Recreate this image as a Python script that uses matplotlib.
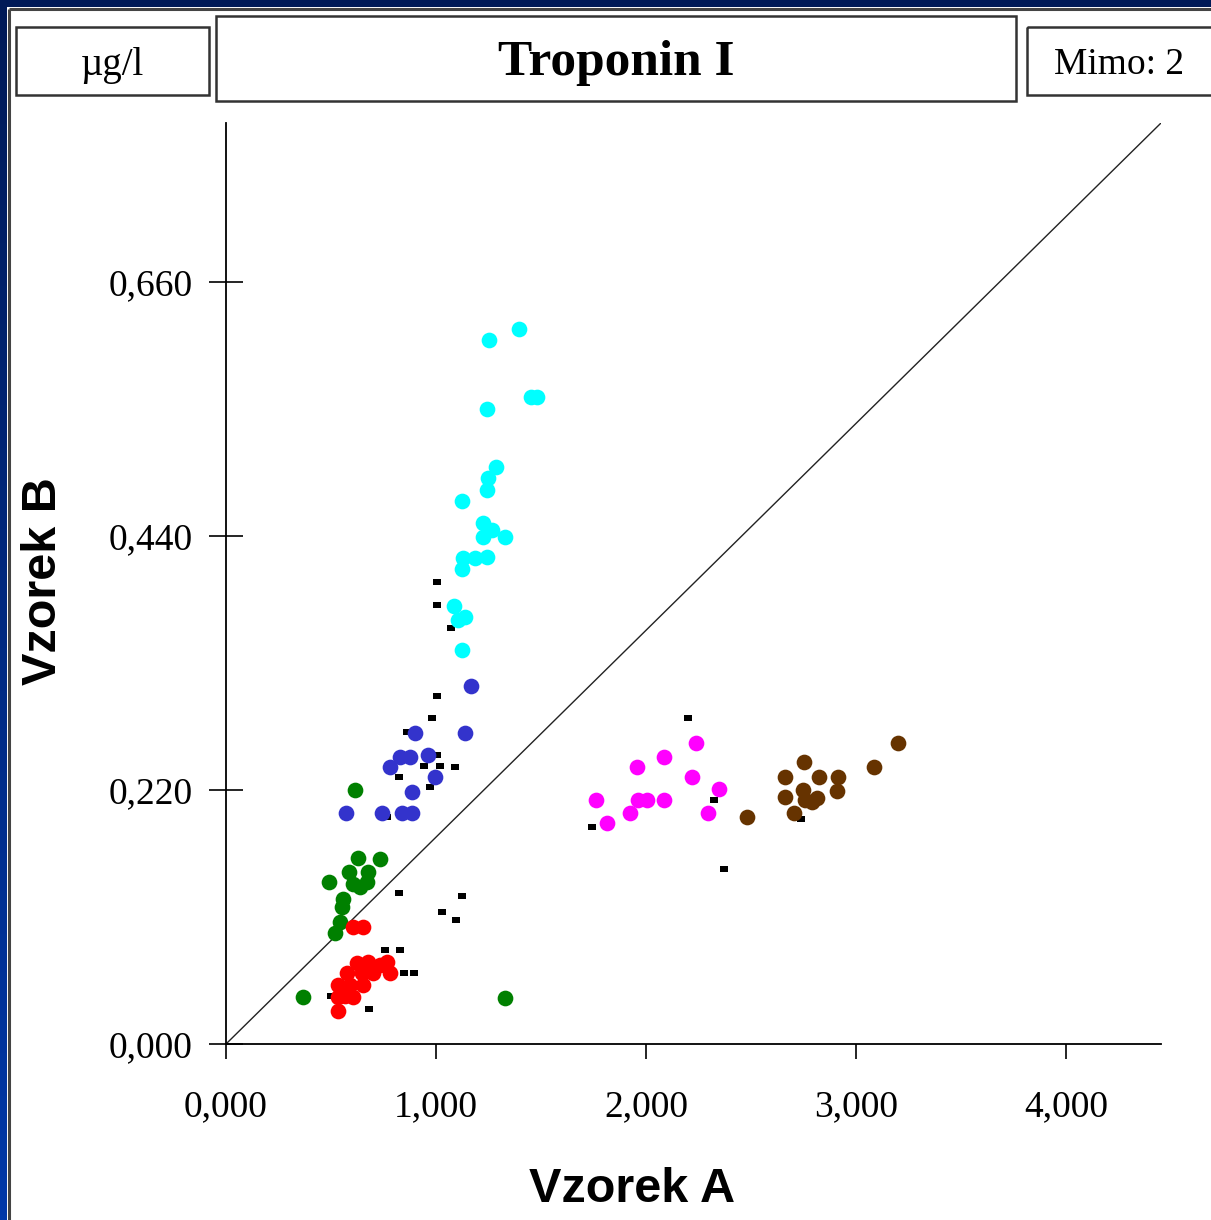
import matplotlib
matplotlib.use("Agg")
import matplotlib.pyplot as plt
import numpy as np
from matplotlib.patches import Rectangle
from matplotlib.path import Path
from matplotlib.ticker import FixedLocator, FuncFormatter
from matplotlib.colors import LinearSegmentedColormap

# ---------------- data ----------------
title = "Troponin I"
unit_label = "µg/l"
outside_label = "Mimo: 2"
x_label = "Vzorek A"
y_label = "Vzorek B"

x_ticks = [0.0, 1.0, 2.0, 3.0, 4.0]
y_ticks = [0.0, 0.22, 0.44, 0.66]
x_max = 4.452
y_max = 0.7977

cyan_x = [1.395, 1.252, 1.452, 1.481, 1.243, 1.286, 1.248, 1.243, 1.124, 1.224, 1.267,
          1.329, 1.224, 1.243, 1.129, 1.186, 1.124, 1.086, 1.138, 1.105, 1.124]
cyan_y = [0.619, 0.610, 0.560, 0.560, 0.550, 0.500, 0.490, 0.480, 0.470, 0.451, 0.445,
          0.439, 0.439, 0.422, 0.421, 0.421, 0.411, 0.379, 0.370, 0.367, 0.341]

blue_x = [1.167, 0.900, 1.138, 0.829, 0.876, 0.962, 0.781, 0.995, 0.886, 0.571, 0.743,
          0.838, 0.886]
blue_y = [0.310, 0.269, 0.269, 0.249, 0.249, 0.250, 0.240, 0.231, 0.218, 0.200, 0.200,
          0.200, 0.200]

green_x = [0.614, 0.733, 0.629, 0.586, 0.676, 0.490, 0.605, 0.671, 0.638, 0.557, 0.552,
           0.543, 0.519, 0.367, 1.329]
green_y = [0.220, 0.160, 0.161, 0.149, 0.149, 0.140, 0.139, 0.140, 0.136, 0.126, 0.119,
           0.106, 0.096, 0.041, 0.040]

red_x = [0.605, 0.652, 0.624, 0.676, 0.767, 0.576, 0.700, 0.781, 0.533, 0.652, 0.533,
         0.605, 0.533, 0.590, 0.648, 0.733, 0.567]
red_y = [0.101, 0.101, 0.070, 0.071, 0.071, 0.0615, 0.0615, 0.0615, 0.051, 0.051, 0.041,
         0.041, 0.029, 0.051, 0.0615, 0.068, 0.042]

magenta_x = [2.238, 2.086, 1.957, 2.219, 2.348, 1.762, 1.962, 2.005, 2.086, 1.924, 2.295,
             1.814]
magenta_y = [0.261, 0.249, 0.240, 0.231, 0.221, 0.211, 0.211, 0.211, 0.211, 0.200, 0.200,
             0.191]

brown_x = [2.481, 3.200, 3.086, 2.752, 2.662, 2.824, 2.914, 2.662, 2.748, 2.910, 2.757,
           2.814, 2.790, 2.705]
brown_y = [0.197, 0.261, 0.240, 0.244, 0.231, 0.231, 0.231, 0.214, 0.220, 0.219, 0.211,
           0.213, 0.210, 0.200]

black_x = [1.005, 1.005, 1.071, 1.005, 0.981, 0.862, 1.005, 0.943, 1.019, 1.090, 0.824,
           0.971, 0.767, 0.824, 1.124, 1.029, 1.095, 0.757, 0.829, 0.848, 0.895, 0.500,
           0.681, 2.200, 2.324, 1.743, 2.738, 2.371]
black_y = [0.400, 0.380, 0.360, 0.301, 0.282, 0.270, 0.250, 0.241, 0.241, 0.240, 0.231,
           0.223, 0.197, 0.131, 0.128, 0.114, 0.107, 0.081, 0.081, 0.0615, 0.0615, 0.042,
           0.030, 0.282, 0.211, 0.188, 0.195, 0.152]

groups = [
    (cyan_x, cyan_y, "#00ffff"),
    (blue_x, blue_y, "#3333cc"),
    (green_x, green_y, "#008000"),
    (red_x, red_y, "#ff0000"),
    (magenta_x, magenta_y, "#ff00ff"),
    (brown_x, brown_y, "#663300"),
]

# ---------------- figure ----------------
W, H = 1211, 1220
fig = plt.figure(figsize=(W / 100, H / 100), dpi=100)
fig.patch.set_facecolor("white")

def fx(px):
    return px / W

def fy(py):
    return 1 - py / H

# outer navy frame (top + left with gradient)
bg = fig.add_axes([0, 0, 1, 1], zorder=-10)
bg.set_axis_off()
bg.add_patch(Rectangle((0, 0), W, 7, color="#001a57", lw=0))
grad = np.linspace(0, 1, 256).reshape(-1, 1)
cm = LinearSegmentedColormap.from_list("nav", ["#001a57", "#0038a8"])
bg.imshow(grad, cmap=cm, extent=[0, 7, H, 0], aspect="auto", zorder=0)
bg.set_xlim(0, W)
bg.set_ylim(H, 0)
# grey inner frame line
bg.plot([9, 9], [9, H], color="#444444", lw=2.2, solid_capstyle="butt")
bg.plot([9, W], [9, 9], color="#444444", lw=2.2, solid_capstyle="butt")

# header boxes
boxes = [
    (16, 27, 209, 95, unit_label, "normal", 28, 112),
    (216, 16, 1016, 101, title, "bold", 37, 616),
    (1027, 27, 1216, 95, outside_label, "normal", 27, 1119),
]
for x0, y0, x1, y1, txt, wt, fs, cx in boxes:
    bg.add_patch(Rectangle((x0, y0), x1 - x0, y1 - y0, fill=False,
                           edgecolor="#333333", lw=1.8))
    bg.text(cx, (y0 + y1) / 2 + 4, txt,
            ha="center", va="center", fontsize=fs, fontweight=wt,
            family="Liberation Serif")

# main axes
ax_l, ax_r, ax_b, ax_t = 226, 1161, 1044, 123
ax = fig.add_axes([fx(ax_l), fy(ax_b), (ax_r - ax_l) / W, (ax_b - ax_t) / H])
ax.set_facecolor("none")
ax.set_xlim(0, x_max)
ax.set_ylim(0, y_max)
for s in ["top", "right"]:
    ax.spines[s].set_visible(False)
for s in ["left", "bottom"]:
    ax.spines[s].set_linewidth(1.3)

ax.xaxis.set_major_locator(FixedLocator(x_ticks))
ax.yaxis.set_major_locator(FixedLocator(y_ticks))
fmt = FuncFormatter(lambda v, p: f"{v:.3f}".replace(".", ","))
ax.xaxis.set_major_formatter(fmt)
ax.yaxis.set_major_formatter(fmt)
ax.tick_params(axis="x", direction="out", length=11, width=1.2, pad=22,
               labelsize=27)
ax.tick_params(axis="y", direction="inout", length=24, width=1.2, pad=12,
               labelsize=27)
for lab in ax.get_xticklabels() + ax.get_yticklabels():
    lab.set_family("Liberation Serif")

# diagonal
ax.plot([0, x_max], [0, y_max], color="#222222", lw=1.0, zorder=2)

# black dash markers
rect = Path([(-1, -0.68), (1, -0.68), (1, 0.68), (-1, 0.68), (-1, -0.68)],
            [Path.MOVETO, Path.LINETO, Path.LINETO, Path.LINETO, Path.CLOSEPOLY])
ax.plot(black_x, black_y, linestyle="none", marker=rect, markersize=6.2,
        color="black", markeredgewidth=0, zorder=3)

for gx, gy, col in groups:
    ax.plot(gx, gy, linestyle="none", marker="o", markersize=11.3,
            color=col, markeredgewidth=0, zorder=4)

# axis labels
fig.text(fx(632), fy(1190), x_label, ha="center", va="center", fontsize=35,
         fontweight="bold", family="Liberation Sans")
fig.text(fx(44), fy(581), y_label, ha="center", va="center", fontsize=35,
         fontweight="bold", family="Liberation Sans", rotation=90)

fig.savefig("out.png", dpi=100, facecolor="white")
